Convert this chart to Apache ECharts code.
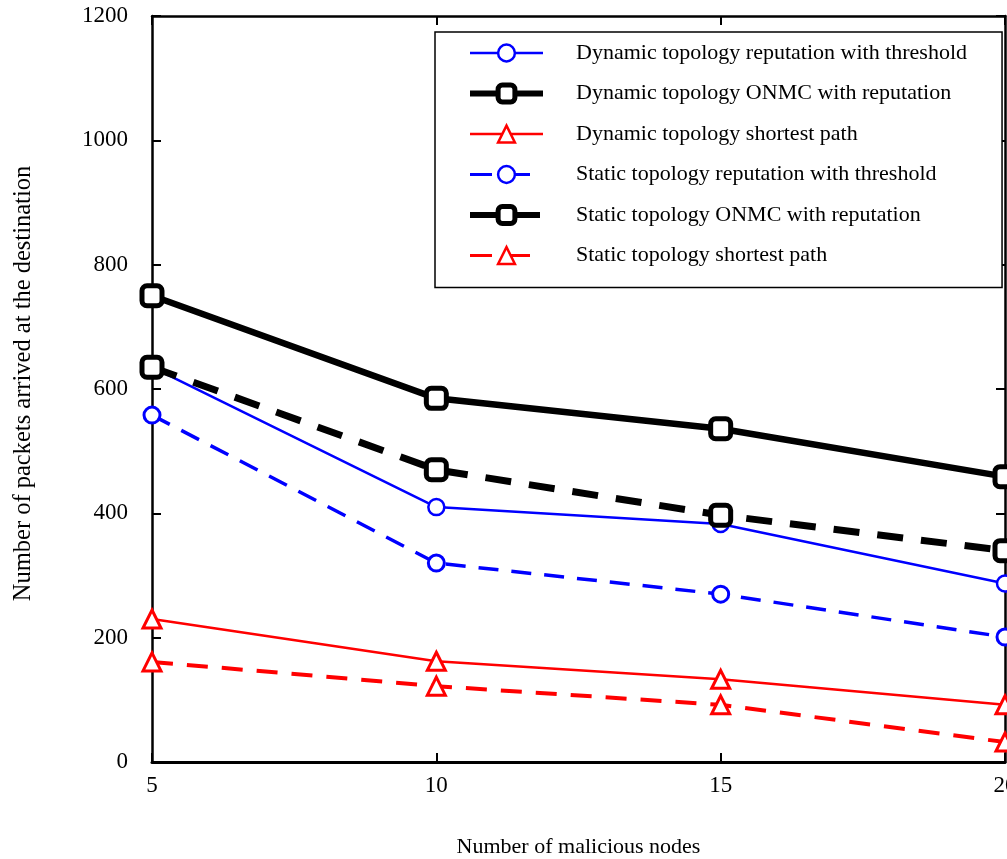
<!DOCTYPE html>
<html>
<head>
<meta charset="utf-8">
<script src="https://cdn.jsdelivr.net/npm/echarts@6/dist/echarts.min.js"></script>
<style>html,body{margin:0;padding:0;background:#fff}#c{width:1007px;height:859px}</style>
</head>
<body>
<div id="c"></div>
<script>
const xValues = [5, 10, 15, 20];
const dynThreshold = [635, 410, 383, 287];
const dynONMC = [750, 585, 536, 459];
const dynShortest = [230, 162, 133, 92];
const staThreshold = [558, 320, 270, 201];
const staONMC = [635, 470, 397, 340];
const staShortest = [161, 122, 92, 32];
const seriesNames = [
  'Dynamic topology reputation with threshold',
  'Dynamic topology ONMC with reputation',
  'Dynamic topology shortest path',
  'Static topology reputation with threshold',
  'Static topology ONMC with reputation',
  'Static topology shortest path'
];
const yTicks = [0, 200, 400, 600, 800, 1000, 1200];

const FONT = '"Liberation Serif", "Times New Roman", serif';
const pair = arr => xValues.map((x, i) => [x, arr[i]]);

const circle = (color, lw) => ({symbol: 'circle', symbolSize: 16, itemStyle: {color: '#fff', borderColor: color, borderWidth: lw}});
const square = {symbol: 'roundRect', symbolSize: 20, itemStyle: {color: '#fff', borderColor: '#000', borderWidth: 5}};
const tri = {symbol: 'triangle', symbolSize: 18, itemStyle: {color: '#fff', borderColor: '#ff0000', borderWidth: 3}};

function mk(name, data, color, width, type, sym) {
  return Object.assign({
    name: name, type: 'line', xAxisIndex: 0, yAxisIndex: 0,
    data: pair(data), showSymbol: true,
    lineStyle: {color: color, width: width, type: type, cap: 'butt'},
    emphasis: {disabled: true}, animation: false, z: 3
  }, sym);
}

const legendStyles = [
  {color: '#0000ff', width: 2.5, type: 'solid', bw: 2.5},
  {color: '#000', width: 6, type: 'solid', bw: 5},
  {color: '#ff0000', width: 2.5, type: 'solid', bw: 2.5},
  {color: '#0000ff', width: 3, type: [22, 16], bw: 2.5},
  {color: '#000', width: 6, type: [26, 18], bw: 5},
  {color: '#ff0000', width: 3, type: [22, 16], bw: 2.5}
];

const chart = echarts.init(document.getElementById('c'), null, {renderer: 'canvas'});
const axisCommon = {
  type: 'value', min: 0, max: 1200, interval: 200,
  splitLine: {show: false},
  axisLine: {show: true, lineStyle: {color: '#000', width: 2.5}},
  axisTick: {show: true, inside: true, length: 9, lineStyle: {color: '#000', width: 2}}
};
chart.setOption({
  backgroundColor: '#fff',
  animation: false,
  grid: {left: 152, top: 16, right: 2, bottom: 97, containLabel: false, outerBoundsMode: 'none'},
  legend: {
    left: 435, top: 32, orient: 'vertical',
    data: seriesNames.map((n, i) => ({
      name: n,
      itemStyle: {color: '#fff', borderColor: legendStyles[i].color, borderWidth: legendStyles[i].bw},
      lineStyle: {color: legendStyles[i].color, width: legendStyles[i].width, type: legendStyles[i].type}
    })),
    itemWidth: 73, itemHeight: 21, itemGap: 18.5,
    padding: [10, 35, 21, 32],
    borderColor: '#000', borderWidth: 1.5, backgroundColor: '#fff',
    textStyle: {fontFamily: FONT, fontSize: 22, color: '#000', padding: [0, 0, 0, 28]},
    selectedMode: false, z: 10
  },
  xAxis: [
    {
      type: 'value', min: 5, max: 20, interval: 5, position: 'bottom',
      name: 'Number of malicious nodes', nameLocation: 'middle', nameGap: 74,
      nameTextStyle: {fontFamily: FONT, fontSize: 22, color: '#000'},
      splitLine: {show: false},
      axisLine: {show: true, onZero: false, lineStyle: {color: '#000', width: 3}},
      axisTick: {show: true, inside: true, length: 9, lineStyle: {color: '#000', width: 2}},
      axisLabel: {fontFamily: FONT, fontSize: 23, color: '#000', margin: 12}
    },
    {
      type: 'value', min: 5, max: 20, interval: 5, position: 'top',
      splitLine: {show: false},
      axisLine: {show: true, onZero: false, lineStyle: {color: '#000', width: 2.5}},
      axisTick: {show: true, inside: true, length: 9, lineStyle: {color: '#000', width: 2}},
      axisLabel: {show: false}
    }
  ],
  yAxis: [
    Object.assign({}, axisCommon, {
      position: 'left',
      name: 'Number of packets arrived at the destination', nameLocation: 'middle', nameGap: 116,
      nameRotate: 90,
      nameTextStyle: {fontFamily: FONT, fontSize: 24.5, color: '#000', padding: [0, 0, 0, 11]},
      axisLabel: {fontFamily: FONT, fontSize: 23, color: '#000', margin: 24,
        formatter: v => yTicks.includes(v) ? String(v) : ''}
    }),
    Object.assign({}, axisCommon, {
      position: 'right', axisLabel: {show: false}
    })
  ],
  series: [
    mk(seriesNames[0], dynThreshold, '#0000ff', 2.5, 'solid', circle('#0000ff', 2.5)),
    mk(seriesNames[1], dynONMC, '#000', 6.5, 'solid', square),
    mk(seriesNames[2], dynShortest, '#ff0000', 2.5, 'solid', tri),
    mk(seriesNames[3], staThreshold, '#0000ff', 3.5, [20, 13], circle('#0000ff', 3)),
    mk(seriesNames[4], staONMC, '#000', 7, [26, 18], square),
    mk(seriesNames[5], staShortest, '#ff0000', 4, [21, 14], tri)
  ]
});
</script>
</body>
</html>
